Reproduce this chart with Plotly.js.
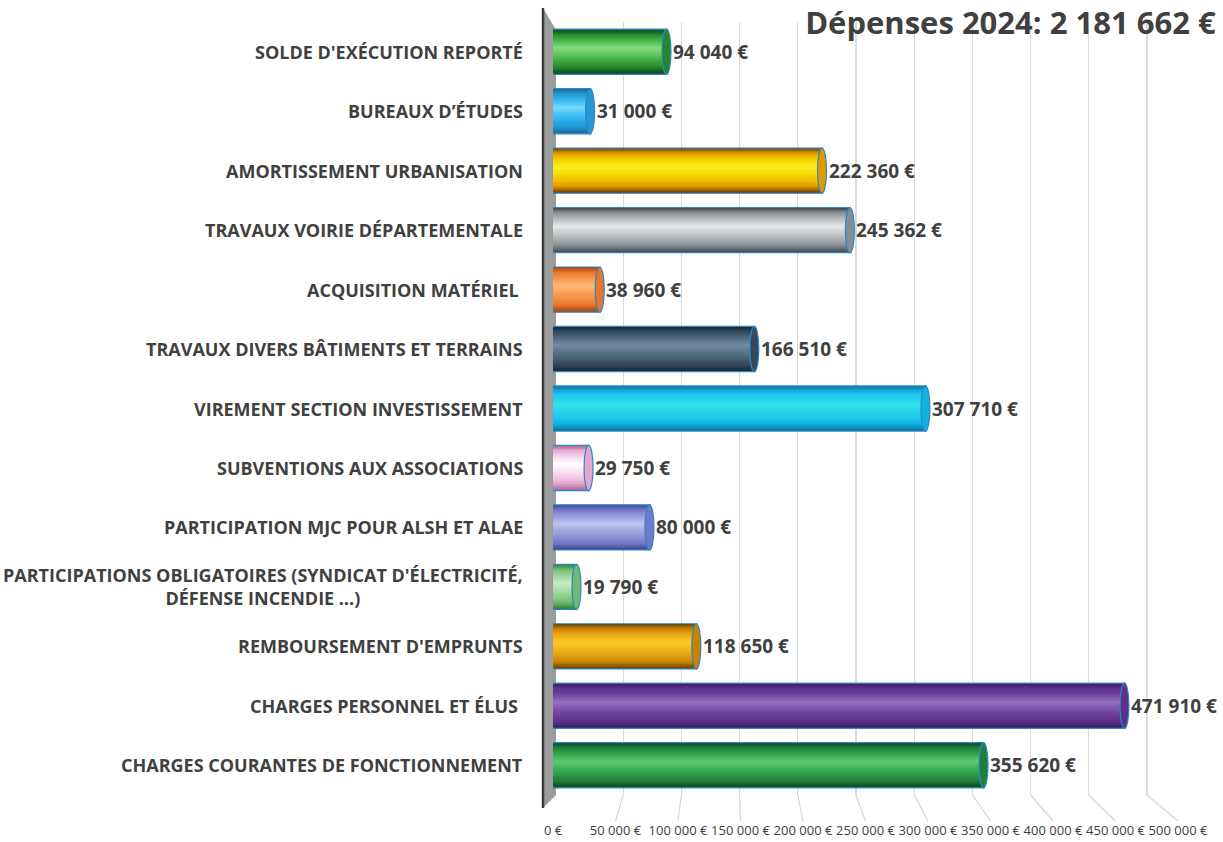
<!DOCTYPE html>
<html><head><meta charset="utf-8">
<script src="https://cdn.plot.ly/plotly-3.0.1.min.js"></script>
<style>html,body{margin:0;padding:0;background:#fff}#chart{width:1223px;height:842px}</style>
</head><body><div id="chart"></div>
<script>
const categories = [
  "SOLDE D'EXÉCUTION REPORTÉ",
  "BUREAUX D’ÉTUDES",
  "AMORTISSEMENT URBANISATION",
  "TRAVAUX VOIRIE DÉPARTEMENTALE",
  "ACQUISITION MATÉRIEL\u00a0",
  "TRAVAUX DIVERS BÂTIMENTS ET TERRAINS",
  "VIREMENT SECTION INVESTISSEMENT",
  "SUBVENTIONS AUX ASSOCIATIONS",
  "PARTICIPATION MJC POUR ALSH ET ALAE",
  "PARTICIPATIONS OBLIGATOIRES (SYNDICAT D'ÉLECTRICITÉ,<br>DÉFENSE INCENDIE …)",
  "REMBOURSEMENT D'EMPRUNTS",
  "CHARGES PERSONNEL ET ÉLUS\u00a0",
  "CHARGES COURANTES DE FONCTIONNEMENT"
];
const values = [94040, 31000, 222360, 245362, 38960, 166510, 307710, 29750, 80000, 19790, 118650, 471910, 355620];
const tickValues = [0, 50000, 100000, 150000, 200000, 250000, 300000, 350000, 400000, 450000, 500000];
const tickLabels = ["0 €", "50 000 €", "100 000 €", "150 000 €", "200 000 €", "250 000 €", "300 000 €", "350 000 €", "400 000 €", "450 000 €", "500 000 €"];
const titleText = "Dépenses 2024: 2 181 662 €";

// cylinder shading stops: edge -> centre highlight
const palettes = [
  ["#0b4a16", "#23862b", "#3aa83e", "#5cc45a", "#85d880"],
  ["#1b6a98", "#2597d2", "#2aaee8", "#45c3f5", "#70d6fb"],
  ["#6e4600", "#e09a00", "#f3c000", "#f8dc00", "#fbee20"],
  ["#464c50", "#868c90", "#a8aeb1", "#c6cbcd", "#e0e4e5"],
  ["#a84812", "#e8742e", "#f68b40", "#fa9f58", "#fdb676"],
  ["#1a2833", "#34495a", "#465f72", "#5a7487", "#7089a0"],
  ["#0a789e", "#12b0dc", "#1ec8f2", "#25d4ee", "#34dfe6"],
  ["#a8709a", "#e4a6cf", "#f3c8e4", "#fae4f2", "#ffffff"],
  ["#444994", "#7478c8", "#8e92d8", "#a4a8e2", "#bec1ec"],
  ["#3a823b", "#6fba6e", "#8ed08c", "#a8dea6", "#c4ebc1"],
  ["#704500", "#c98200", "#e0a010", "#f2b418", "#f9c828"],
  ["#3a1c5e", "#5b3289", "#6b3d98", "#7c51a8", "#9470bb"],
  ["#0b4a20", "#1f7e3a", "#2a9a48", "#3fb25a", "#5cc670"]
];
const capOutline = '#2e86c8';

function hex2rgb(h) { return [1, 3, 5].map(i => parseInt(h.substr(i, 2), 16)); }
function mix(a, b, t) {
  const A = hex2rgb(a), B = hex2rgb(b);
  return 'rgb(' + A.map((v, i) => Math.round(v + (B[i] - v) * t)).join(',') + ')';
}
function shade(p, t) { // t: 0 edge -> 1 centre
  const s = t * (p.length - 1), i = Math.min(Math.floor(s), p.length - 2);
  return mix(p[i], p[i + 1], s - i);
}

const BAR_W = 0.76, N = 16;
const traces = [];
for (let L = 0; L < N; L++) {
  const t = L / (N - 1);
  const w = BAR_W * (1 - t * 0.94);
  const shift = -0.06 * t;
  traces.push({
    type: 'bar', orientation: 'h',
    x: values, y: categories,
    width: categories.map(() => w),
    offset: categories.map(() => -w / 2 + shift),
    marker: {
      color: palettes.map(p => shade(p, t)),
      line: L === 0 ? {color: capOutline, width: 1.2} : {width: 0}
    },
    hoverinfo: 'skip', showlegend: false, xaxis: 'x', yaxis: 'y'
  });
}
// invisible traces to activate helper axes
traces.push({type: 'scatter', mode: 'markers', x: [0], y: [categories[0]], marker: {opacity: 0}, xaxis: 'x2', yaxis: 'y', showlegend: false, hoverinfo: 'skip'});
traces.push({type: 'scatter', mode: 'markers', x: [0], y: [categories[0]], marker: {opacity: 0}, xaxis: 'x3', yaxis: 'y', showlegend: false, hoverinfo: 'skip'});

function fmt(v) { return String(v).replace(/\B(?=(\d{3})+(?!\d))/g, ' ') + ' €'; }

// plot area: left 553, right 1200, top 22, bottom 795
const W = 647, H = 773;
const px = p => (p - 553) / W;
const py = p => (795 - p) / H;
const G0 = 565, GS = 58.2;   // back-wall grid: pixel of 0 and per 50 000
const L0 = 553, LS = 62.5;   // floor labels: pixel of 0 and per 50 000

const annotations = categories.map(c => ({
  xref: 'paper', yref: 'y', x: 0, y: c, xshift: -28,
  xanchor: 'right', yanchor: 'middle', align: 'center',
  text: c, showarrow: false,
  font: {family: 'Open Sans', size: 18, color: '#404040', weight: 'bold'}
})).concat(values.map((v, i) => ({
  xref: 'x', yref: 'y', x: v, y: categories[i], xshift: 4,
  xanchor: 'left', yanchor: 'middle',
  text: fmt(v), showarrow: false,
  font: {family: 'Open Sans', size: 19, color: '#404040', weight: 'bold'}
})));

const shapes = [
  {type: 'path', xref: 'paper', yref: 'paper', layer: 'below',
    path: `M ${px(543)} ${py(8)} L ${px(556)} ${py(30)} L ${px(556)} ${py(795)} L ${px(543)} ${py(808)} Z`,
    fillcolor: '#9a9d9c', line: {width: 0}},
  {type: 'line', xref: 'paper', yref: 'paper', layer: 'below',
    x0: px(543), x1: px(543), y0: py(8), y1: py(808), line: {color: '#3a3a3a', width: 2.5}}
];
// floor lines joining back-wall grid to the tick labels
tickValues.slice(1).forEach(v => {
  const k = v / 50000;
  shapes.push({type: 'line', xref: 'paper', yref: 'paper', layer: 'below',
    x0: px(G0 + k * GS), y0: py(795), x1: px(L0 + k * LS), y1: py(821),
    line: {color: '#d4d6d6', width: 1.2}});
});
// end caps of the cylinders
values.forEach((v, i) => {
  shapes.push({type: 'circle', xref: 'x', yref: 'y', xsizemode: 'pixel', xanchor: v,
    x0: -5, x1: 4, y0: i - BAR_W / 2, y1: i + BAR_W / 2, layer: 'above',
    fillcolor: palettes[i][1], line: {color: capOutline, width: 1.2}});
});

const layout = {
  width: 1223, height: 842,
  margin: {l: 553, r: 23, t: 22, b: 47},
  paper_bgcolor: '#ffffff', plot_bgcolor: 'rgba(0,0,0,0)',
  title: {
    text: titleText, x: 0.994, xanchor: 'right', xref: 'container',
    y: 0.973, yanchor: 'middle', yref: 'container',
    font: {family: 'Open Sans', size: 31, color: '#404040', weight: 'bold'}
  },
  barmode: 'overlay',
  xaxis: {range: [0, 500000 * W / 606], showgrid: false, zeroline: false, showticklabels: false, showline: false, fixedrange: true},
  xaxis2: {overlaying: 'x', range: [-(G0 - 553) / GS * 50000, (W - (G0 - 553)) / GS * 50000], tickvals: tickValues.slice(1), showgrid: true, gridcolor: '#d9dbdb', gridwidth: 1.2, showticklabels: false, zeroline: false, side: 'bottom'},
  xaxis3: {overlaying: 'x', range: [0, W / LS * 50000], tickvals: tickValues, ticktext: tickLabels, showgrid: false, zeroline: false, showline: false, ticks: '', ticklabelstandoff: 26, tickangle: 0, side: 'bottom',
    tickfont: {family: 'Open Sans', size: 13, color: '#404040'}},
  yaxis: {type: 'category', autorange: false, range: [categories.length - 0.5, -0.5], showticklabels: false, showgrid: false, zeroline: false, showline: false, ticks: ''},
  annotations: annotations,
  shapes: shapes
};
Plotly.newPlot('chart', traces, layout, {displayModeBar: false, staticPlot: true});
</script></body></html>
